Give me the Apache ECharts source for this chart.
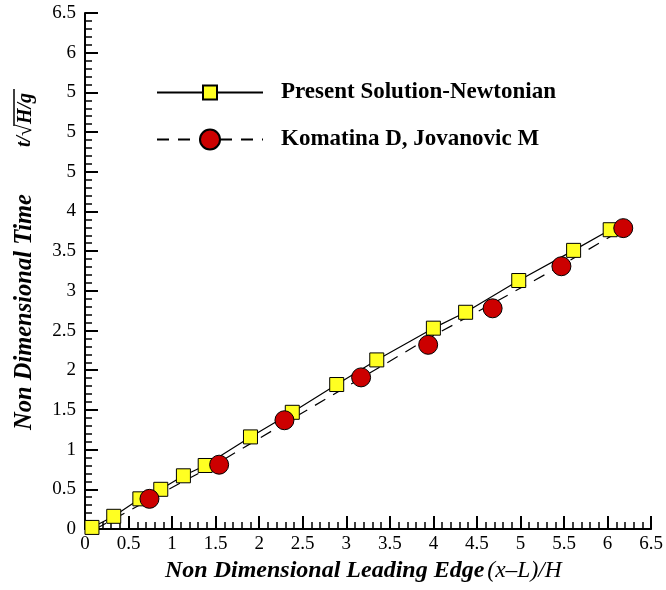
<!DOCTYPE html>
<html lang="en">
<head>
    <meta charset="UTF-8">
    <title>Leading Edge vs Time</title>
    <script src="https://cdnjs.cloudflare.com/ajax/libs/echarts/6.0.0/echarts.min.js"></script>
    <style>
        html, body {margin: 0; padding: 0; background: #fff;}
    </style>
</head>
<body>
<div id="chart" style="width: 666px; height: 590px;"></div>

<script>
    // values
    var presentX = [0.08, 0.33, 0.63, 0.87, 1.13, 1.38, 1.90, 2.38, 2.89, 3.35, 4.00, 4.37, 4.98, 5.61, 6.03];
    var presentY = [0.02, 0.16, 0.38, 0.50, 0.67, 0.80, 1.16, 1.47, 1.82, 2.13, 2.53, 2.73, 3.13, 3.51, 3.77];

    var komatinaX = [0.74, 1.54, 2.29, 3.17, 3.94, 4.68, 5.47, 6.18];
    var komatinaY = [0.38, 0.81, 1.37, 1.91, 2.32, 2.78, 3.31, 3.79];

    // dashed curve drawn with the Komatina data (does not pass exactly through the circles)
    var dashX = [0.12, 0.74, 1.54, 2.29, 3.17, 3.94, 4.68, 5.47, 6.18];
    var dashY = [0.00, 0.37, 0.84, 1.33, 1.90, 2.40, 2.84, 3.32, 3.78];

    var xTickLabels = ['0', '0.5', '1', '1.5', '2', '2.5', '3', '3.5', '4', '4.5', '5', '5.5', '6', '6.5'];
    var yTickLabels = ['0', '0.5', '1', '1.5', '2', '2.5', '3', '3.5', '4', '5', '5', '5', '6', '6.5'];

    var nameA = 'Present Solution-Newtonian';
    var nameB = 'Komatina D, Jovanovic M';

    function zip(xs, ys) {
        return xs.map(function (x, i) { return [x, ys[i]]; });
    }

    var serif = 'Liberation Serif';

    var chart = echarts.init(document.getElementById('chart'));

    var axisCommon = {
        type: 'value',
        min: 0,
        max: 6.5,
        interval: 0.5,
        splitLine: {show: false},
        axisLine: {lineStyle: {color: '#000', width: 2}},
        axisTick: {inside: true, length: 13, lineStyle: {color: '#000', width: 2}},
        minorTick: {show: true, splitNumber: 5, length: 7, lineStyle: {color: '#000', width: 1.5}},
        minorSplitLine: {show: false}
    };

    var option = {
        animation: false,
        backgroundColor: '#fff',
        grid: {left: 85, right: 14, top: 13, bottom: 61},
        xAxis: Object.assign({}, axisCommon, {
            axisLabel: {
                color: '#000', fontFamily: serif, fontSize: 19, margin: 6,
                formatter: function (v) { return xTickLabels[Math.round(v / 0.5)]; }
            }
        }),
        yAxis: Object.assign({}, axisCommon, {
            axisLabel: {
                color: '#000', fontFamily: serif, fontSize: 19, margin: 9,
                formatter: function (v) { return yTickLabels[Math.round(v / 0.5)]; }
            }
        }),
        legend: [{
            data: [nameA],
            left: 156,
            top: 81,
            padding: 0,
            itemWidth: 106,
            itemHeight: 17.5,
            textStyle: {fontFamily: serif, fontWeight: 'bold', fontSize: 23, color: '#000', padding: [0, 0, 0, 13]}
        }, {
            data: [nameB],
            left: 156,
            top: 128,
            padding: 0,
            itemWidth: 106,
            itemHeight: 25,
            textStyle: {fontFamily: serif, fontWeight: 'bold', fontSize: 23, color: '#000', padding: [0, 0, 0, 13]}
        }],
        series: [{
            name: nameA,
            type: 'line',
            data: zip(presentX, presentY),
            symbol: 'rect',
            symbolSize: 14,
            lineStyle: {color: '#000', width: 1.2},
            itemStyle: {color: '#ffff22', borderColor: '#000', borderWidth: 1},
            z: 2
        }, {
            name: nameB,
            type: 'line',
            data: zip(dashX, dashY),
            symbol: 'circle',
            showSymbol: false,
            lineStyle: {color: '#000', width: 1.2, type: [12, 9]},
            itemStyle: {color: '#cc0000', borderColor: '#000', borderWidth: 1},
            z: 2
        }, {
            name: nameB,
            type: 'scatter',
            data: zip(komatinaX, komatinaY),
            symbol: 'circle',
            symbolSize: 19,
            itemStyle: {color: '#cc0000', borderColor: '#000', borderWidth: 1, opacity: 1},
            z: 3
        }],
        graphic: [{
            type: 'text',
            left: 165,
            top: 559,
            style: {
                text: '{a|Non Dimensional Leading Edge}{b|(x–L)/H}',
                rich: {
                    a: {fontFamily: serif, fontWeight: 'bold', fontStyle: 'italic', fontSize: 24, fill: '#000'},
                    b: {fontFamily: serif, fontStyle: 'italic', fontSize: 23.5, fill: '#000', padding: [0, 0, 0, 3]}
                }
            }
        }, {
            type: 'group',
            x: 25,
            y: 430,
            rotation: Math.PI / 2,
            children: [{
                type: 'text',
                x: 0,
                y: 0,
                style: {
                    text: 'Non Dimensional Time',
                    fontFamily: serif, fontWeight: 'bold', fontStyle: 'italic', fontSize: 24.5,
                    fill: '#000', verticalAlign: 'middle', align: 'left'
                }
            }, {
                type: 'text',
                x: 283,
                y: 0,
                style: {
                    text: 't/',
                    fontFamily: serif, fontWeight: 'bold', fontStyle: 'italic', fontSize: 20,
                    fill: '#000', verticalAlign: 'middle', align: 'left'
                }
            }, {
                type: 'text',
                x: 294,
                y: 0,
                style: {
                    text: '√',
                    fontFamily: serif, fontSize: 21,
                    fill: '#000', verticalAlign: 'middle', align: 'left'
                }
            }, {
                type: 'text',
                x: 306,
                y: 1,
                style: {
                    text: 'H/g',
                    fontFamily: serif, fontWeight: 'bold', fontStyle: 'italic', fontSize: 20,
                    fill: '#000', verticalAlign: 'middle', align: 'left'
                }
            }, {
                type: 'line',
                shape: {x1: 304, y1: -11, x2: 341, y2: -11},
                style: {stroke: '#000', lineWidth: 1.5}
            }]
        }]
    };

    chart.setOption(option);
</script>
</body>
</html>
